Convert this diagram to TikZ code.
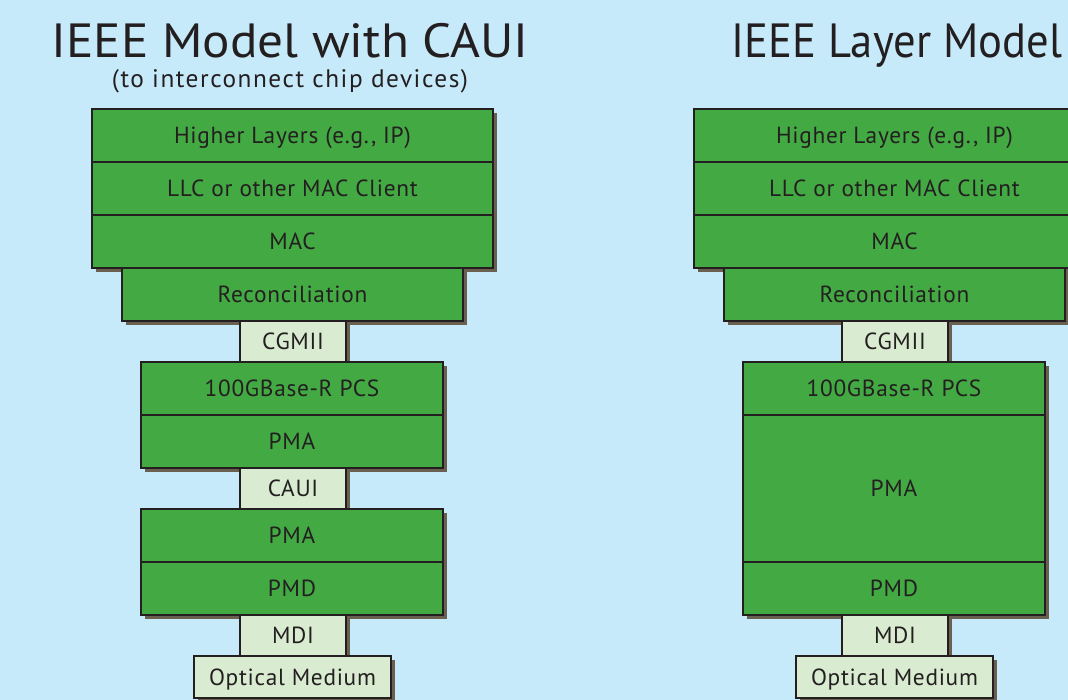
\documentclass[tikz,border=0pt]{standalone}
\usepackage{fontspec}
\setmainfont{PT Sans}
\usetikzlibrary{shadows}
\definecolor{bg}{RGB}{199,234,250}
\definecolor{grn}{RGB}{67,169,67}
\definecolor{pale}{RGB}{217,235,208}
\definecolor{shd}{RGB}{106,96,80}
\definecolor{ink}{RGB}{35,31,32}
\begin{document}
\begin{tikzpicture}[x=0.75pt,y=-0.75pt,
  box/.style={draw=ink, line width=1.8pt, fill=grn, inner sep=0pt, text=ink,
    font=\fontsize{17.5}{19}\selectfont\addfontfeature{LetterSpace=3},
    text height=12.2pt, text depth=0pt,
    drop shadow={shadow xshift=3.2pt, shadow yshift=-3.2pt, fill=shd, opacity=1}},
  lt/.style={box, fill=pale},
  wide/.style={minimum width=300.75pt, minimum height=39.75pt},
  rec/.style={minimum width=255.75pt, minimum height=39.75pt},
  mid/.style={minimum width=226.5pt, minimum height=39.75pt},
  small/.style={minimum width=79.5pt, minimum height=30.75pt},
  med/.style={minimum width=147.75pt, minimum height=31.5pt},
  ttl/.style={text=ink, inner sep=0pt, anchor=base, transform shape, font=\fontsize{36}{40}\selectfont},
  sub/.style={text=ink, inner sep=0pt, anchor=base, font=\fontsize{19}{20}\selectfont\addfontfeature{LetterSpace=6}}]
\useasboundingbox (0,0) rectangle (1068,700);
\clip (0,0) rectangle (1068,700);
\fill[bg] (0,0) rectangle (1068,700);

% Titles
\node[ttl, xscale=1.067] (t1) at (290,57) {IEEE Model with CAUI};
\node[sub] (t1s) at (290,87) {(to interconnect chip devices)};
\node[ttl, xscale=0.93] (t2) at (897,57) {IEEE Layer Model};

% Left stack
\node[box,wide] (lhl) at (292.5,135.5) {Higher Layers (e.g., IP)};
\node[box,wide] (lllc) at (292.5,188.5) {LLC or other MAC Client};
\node[box,wide] (lmac) at (292.5,241.5) {MAC};
\node[box,rec] (lrec) at (292.5,294.5) {Reconciliation};
\node[lt,small] (lcg) at (293,341.5) {CGMII};
\node[box,mid] (lpcs) at (292,388.5) {100GBase-R PCS};
\node[box,mid] (lpma) at (292,441.5) {PMA};
\node[lt,small] (lcaui) at (293,488.5) {CAUI};
\node[box,mid] (lpma2) at (292,535.5) {PMA};
\node[box,mid] (lpmd) at (292,588.5) {PMD};
\node[lt,small] (lmdi) at (293,635.5) {MDI};
\node[lt,med] (lopt) at (292.5,677) {Optical Medium};

% Right stack
\node[box,wide] (rhl) at (894.5,135.5) {Higher Layers (e.g., IP)};
\node[box,wide] (rllc) at (894.5,188.5) {LLC or other MAC Client};
\node[box,wide] (rmac) at (894.5,241.5) {MAC};
\node[box,rec] (rrec) at (894.5,294.5) {Reconciliation};
\node[lt,small] (rcg) at (895,341.5) {CGMII};
\node[box,mid] (rpcs) at (894,388.5) {100GBase-R PCS};
\node[box,minimum width=226.5pt, minimum height=110.25pt] (rpma) at (894,488.5) {PMA};
\node[box,mid] (rpmd) at (894,588.5) {PMD};
\node[lt,small] (rmdi) at (895,635.5) {MDI};
\node[lt,med] (ropt) at (894.5,677) {Optical Medium};
\end{tikzpicture}
\end{document}
